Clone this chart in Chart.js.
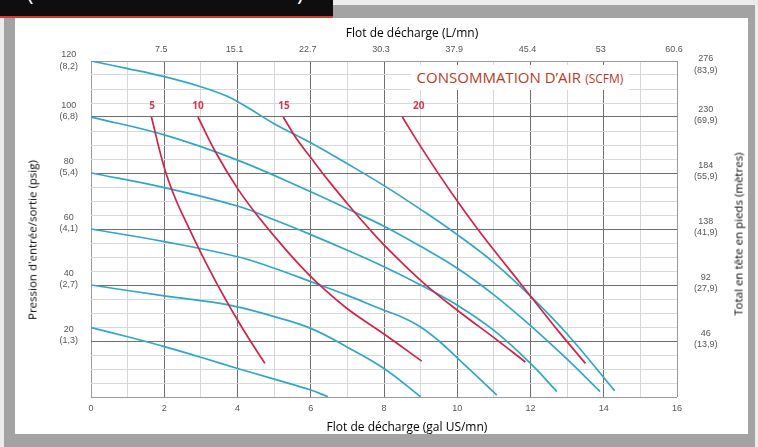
<!DOCTYPE html>
<html><head><meta charset="utf-8">
<script src="https://cdn.jsdelivr.net/npm/chart.js@4.4.1/dist/chart.umd.min.js"></script>
<style>
html,body{margin:0;padding:0;width:758px;height:447px;overflow:hidden;background:#ececec;}
#frame{position:absolute;left:4px;top:5px;width:751px;height:442px;background:#a3a3a3;}
#panel{position:absolute;left:15px;top:18px;width:733px;height:416px;background:#fff;}
#topbar{position:absolute;left:0;top:0;width:333px;height:16px;background:#0e0e0e;overflow:hidden;border-bottom:2px solid #d23a3a;}
#topbar span{position:absolute;top:-23px;color:#fff;font:22px 'Open Sans';}
#c{position:absolute;left:0;top:0;}
.t{position:absolute;white-space:nowrap;font-family:'Open Sans';color:#000;transform:translate(-50%,-50%);}
.rot{transform:translate(-50%,-50%) rotate(-90deg);}
#conso{position:absolute;left:411px;top:65px;width:218px;height:25px;background:#fff;color:#bd3a1f;font-family:'Open Sans';text-align:center;line-height:25px;white-space:nowrap;}
</style></head>
<body>
<div id="frame"></div>
<div id="panel"></div>
<div id="topbar"><span style="left:27px">(</span><span style="left:297px">)</span></div>
<canvas id="c" width="758" height="447"></canvas>
<div class="t" style="left:412px;top:32px;font-size:12px;">Flot de décharge (L/mn)</div>
<div class="t" style="left:407px;top:426px;font-size:12px;">Flot de décharge (gal US/mn)</div>
<div class="t rot" style="left:32px;top:240px;font-size:11.5px;">Pression d'entrée/sortie (psig)</div>
<div class="t rot" style="left:738px;top:234px;font-size:11.5px;">Total en tête en pieds (mètres)</div>
<div id="conso"><span style="font-size:15px;">CONSOMMATION D’AIR</span> <span style="font-size:12px;">(SCFM)</span></div>
<script>
// ---- axis tick labels ----
const gpmTicks = [0, 2, 4, 6, 8, 10, 12, 14, 16];
const lpmLabels = ['', '7.5', '15.1', '22.7', '30.3', '37.9', '45.4', '53', '60.6'];
const psiTicks = [20, 40, 60, 80, 100, 120];
const psiLabels = ['20', '40', '60', '80', '100', '120'];
const barLabels = ['(1,3)', '(2,7)', '(4,1)', '(5,4)', '(6,8)', '(8,2)'];
const headFt = ['46', '92', '138', '184', '230', '276'];
const headM = ['(13,9)', '(27,9)', '(41,9)', '(55,9)', '(69,9)', '(83,9)'];

// ---- pressure curves (gal US/mn vs psig) ----
const p120X = [0, 1, 2, 3, 3.75, 4.3, 5, 6, 7, 8, 9, 10, 11, 12, 13, 14.3];
const p120Y = [120, 117.3, 114.4, 110.8, 107.2, 103.2, 97.6, 90.8, 83.3, 75.5, 67, 58, 48, 36, 22.5, 2.2];
const p100X = [0, 2, 4, 6, 7, 8, 9, 10, 11, 12, 13, 13.9];
const p100Y = [100, 93.6, 84.6, 73.3, 67.2, 61, 53.8, 46, 36.5, 25.5, 13.5, 1.9];
const p80X = [0, 2, 4, 5, 6, 7, 8, 9, 10, 11, 12, 12.72];
const p80Y = [80, 74.8, 68.2, 63.3, 58, 52.4, 46.5, 40, 32.8, 23.8, 12, 1.9];
const p60X = [0, 2, 4, 5, 6, 7, 8, 8.5, 9, 9.5, 10, 11.08];
const p60Y = [60, 55.5, 50.1, 46, 41.2, 36.3, 31, 28.5, 25, 20, 14, 0.7];
const p40X = [0, 2, 3.75, 5, 6, 7, 8, 9];
const p40Y = [40, 36.1, 32.9, 28.7, 24.5, 17.8, 10.2, 0.1];
const p20X = [0, 1, 2, 3, 4, 5, 6, 6.47];
const p20Y = [24.8, 21.5, 18, 14.2, 10.2, 6.4, 2.5, 0.1];

// ---- air consumption curves (SCFM) ----
const a5X = [1.65, 2.0, 2.3, 2.65, 3.0, 3.5, 4.0, 4.4, 4.75];
const a5Y = [100, 82, 71, 61, 51.5, 39, 27.5, 19, 12];
const a10X = [2.92, 3.4, 4, 4.5, 5, 5.6, 6.2, 7, 8, 9.03];
const a10Y = [100, 87.5, 74.5, 65.5, 57.5, 48.5, 40.5, 31.5, 22.5, 12.8];
const a15X = [5.25, 5.6, 6, 6.5, 7.1, 7.6, 8.1, 9.1, 10.1, 11, 11.86];
const a15Y = [100, 92.5, 85.5, 77, 67.5, 60, 53, 40.5, 30, 21.2, 12.5];
const a20X = [8.5, 9, 9.5, 10, 10.5, 11, 11.7, 12.7, 13.5];
const a20Y = [100, 89.5, 79.5, 70, 61, 52.5, 41, 24.5, 12];

const airNames = ['5', '10', '15', '20'];
const airLabelX = [1.67, 2.92, 5.27, 8.95];
const airLabelY = [104, 104, 104, 104];

const BLUE = '#2ea8c9';
const RED = '#d52246';

const pts = (xs, ys) => xs.map((x, i) => ({x: x, y: ys[i]}));
const pressureSets = [[p120X, p120Y], [p100X, p100Y], [p80X, p80Y], [p60X, p60Y], [p40X, p40Y], [p20X, p20Y]];
const airSets = [[a5X, a5Y], [a10X, a10Y], [a15X, a15Y], [a20X, a20Y]];

const datasets = [];
pressureSets.forEach(s => datasets.push({
  data: pts(s[0], s[1]), borderColor: BLUE, borderWidth: 1.7, pointRadius: 0,
  showLine: true, tension: 0.4, order: 2
}));
airSets.forEach(s => datasets.push({
  data: pts(s[0], s[1]), borderColor: RED, borderWidth: 1.7, pointRadius: 0,
  showLine: true, tension: 0.4, order: 1
}));

const tickFont = {family: "'Liberation Sans', Arial, sans-serif", size: 9, lineHeight: 1.25};
const tickColor = '#555';

const airLabelPlugin = {
  id: 'airLabels',
  afterDatasetsDraw(chart) {
    const {ctx, scales} = chart;
    ctx.save();
    ctx.fillStyle = '#e0334f';
    ctx.font = "bold 10px 'Open Sans', sans-serif";
    ctx.textAlign = 'center';
    ctx.textBaseline = 'middle';
    airNames.forEach((n, i) => {
      ctx.fillText(n, scales.x.getPixelForValue(airLabelX[i]), scales.y.getPixelForValue(airLabelY[i]));
    });
    ctx.restore();
  }
};

new Chart(document.getElementById('c'), {
  type: 'scatter',
  data: {datasets: datasets},
  options: {
    responsive: false,
    animation: false,
    events: [],
    layout: {padding: 0},
    plugins: {legend: {display: false}, tooltip: {enabled: false}},
    scales: {
      x: {
        type: 'linear', position: 'bottom', min: 0, max: 16,
        afterFit: s => { s.height = 50; },
        border: {display: false},
        grid: {
          drawTicks: false, lineWidth: 1,
          color: c => (c.tick.value === 0 || c.tick.value === 16) ? '#9a9a9a' : (c.tick.value % 2 === 0 ? '#6e6e6e' : '#d8d8d8')
        },
        ticks: {
          stepSize: 1, autoSkip: false, maxRotation: 0, padding: 6, font: tickFont, color: tickColor,
          callback: v => gpmTicks.includes(v) ? String(v) : ''
        }
      },
      xTop: {
        type: 'linear', position: 'top', min: 0, max: 16,
        afterFit: s => { s.height = 61; },
        border: {display: false},
        grid: {display: false, drawTicks: false},
        ticks: {
          stepSize: 2, autoSkip: false, maxRotation: 0, padding: 6, labelOffset: -3, font: tickFont, color: tickColor,
          callback: v => { const i = gpmTicks.indexOf(v); return i < 0 ? '' : lpmLabels[i]; }
        }
      },
      y: {
        type: 'linear', position: 'left', min: 0, max: 120,
        afterFit: s => { s.width = 91; },
        border: {display: false},
        grid: {
          drawTicks: false, lineWidth: 1,
          color: c => (c.tick.value === 0 || c.tick.value === 120) ? '#9a9a9a' : (c.tick.value % 20 === 0 ? '#6e6e6e' : '#d8d8d8')
        },
        ticks: {
          stepSize: 5, autoSkip: false, padding: 13, crossAlign: 'center', labelOffset: -6, font: tickFont, color: tickColor,
          callback: v => {
            const i = psiTicks.indexOf(v);
            if (i < 0) return '';
            return v === 120 ? ['', psiLabels[i], barLabels[i]] : [psiLabels[i], barLabels[i]];
          }
        }
      },
      yRight: {
        type: 'linear', position: 'right', min: 0, max: 120,
        afterFit: s => { s.width = 81; },
        border: {display: false},
        grid: {display: false, drawTicks: false},
        ticks: {
          stepSize: 20, autoSkip: false, padding: 17, crossAlign: 'center', labelOffset: -2, font: tickFont, color: tickColor,
          callback: v => {
            const i = psiTicks.indexOf(v);
            if (i < 0) return '';
            return v === 120 ? ['', headFt[i], headM[i]] : [headFt[i], headM[i]];
          }
        }
      }
    }
  },
  plugins: [airLabelPlugin]
});
</script>
</body></html>
